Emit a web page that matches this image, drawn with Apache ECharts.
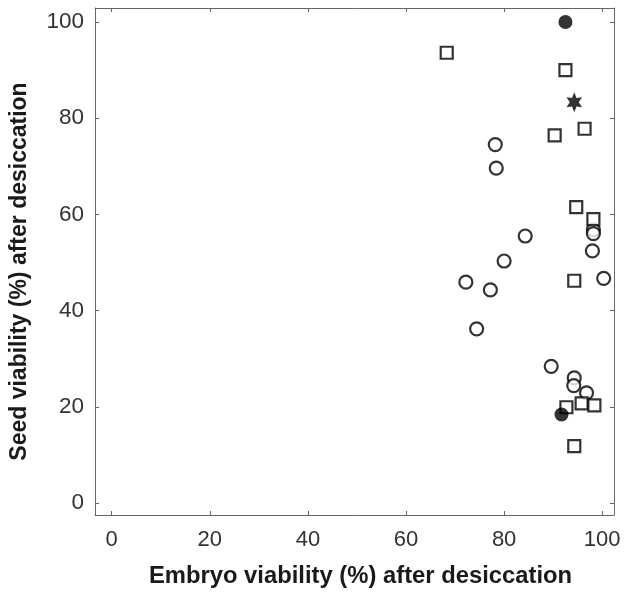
<!DOCTYPE html>
<html>
<head>
<meta charset="utf-8">
<script src="https://cdn.jsdelivr.net/npm/echarts@6/dist/echarts.min.js"></script>
<style>html,body{margin:0;padding:0;background:#fff}#c{width:625px;height:593px}</style>
</head>
<body>
<div id="c"></div>
<script>
// Tick values
const xTicks = [0, 20, 40, 60, 80, 100];
const yTicks = [0, 20, 40, 60, 80, 100];

// Open circles: [embryo viability, seed viability]
const openCircles = [
  [78.2, 74.5], [78.4, 69.6], [84.3, 55.5], [80.0, 50.3], [72.2, 45.9],
  [77.2, 44.3], [74.4, 36.2], [98.0, 52.4], [100.3, 46.7], [98.2, 56.8],
  [98.2, 56.0], [89.6, 28.4], [94.3, 26.0], [94.2, 24.4], [96.8, 22.9]
];
// Open squares
const openSquares = [
  [68.3, 93.6], [92.5, 90.0], [96.4, 77.8], [90.3, 76.4], [94.7, 61.5],
  [98.2, 59.0], [94.3, 46.2], [95.8, 20.7], [98.4, 20.3], [92.7, 19.9],
  [94.3, 11.8]
];
// Filled circles
const filledCircles = [[92.5, 100.0], [91.7, 18.4]];
// Star
const stars = [[94.3, 83.3]];

const font = 'Liberation Sans, Arial, Helvetica, sans-serif';
const frameColor = '#666';
const starPath = 'path://M10 0 L12.5 5.67 L18.66 5 L15 10 L18.66 15 L12.5 14.33 L10 20 L7.5 14.33 L1.34 15 L5 10 L1.34 5 L7.5 5.67 Z';

const chart = echarts.init(document.getElementById('c'), null, {renderer: 'canvas'});
const baseX = {
  type: 'value', min: -3.4, max: 102.4,
  splitLine: {show: false},
  axisLine: {show: true, onZero: false, lineStyle: {color: frameColor, width: 1}},
  axisTick: {show: true, inside: true, length: 4, customValues: xTicks, lineStyle: {color: frameColor}},
  axisLabel: {show: true, customValues: xTicks, fontFamily: font, fontSize: 22, color: '#333', margin: 14}
};
const baseY = {
  type: 'value', min: -2.5, max: 102.9,
  splitLine: {show: false},
  axisLine: {show: true, onZero: false, lineStyle: {color: frameColor, width: 1}},
  axisTick: {show: true, inside: true, length: 4, customValues: yTicks, lineStyle: {color: frameColor}},
  axisLabel: {show: true, customValues: yTicks, fontFamily: font, fontSize: 22.5, color: '#333', margin: 11}
};
const option = {
  backgroundColor: '#fff',
  animation: false,
  grid: {left: 90, right: 11, top: 8, bottom: 76, containLabel: false},
  xAxis: [
    Object.assign({}, baseX, {
      position: 'bottom',
      name: 'Embryo viability (%) after desiccation',
      nameLocation: 'middle', nameGap: 49,
      nameTextStyle: {fontFamily: font, fontSize: 23.8, fontWeight: 'bold', color: '#1a1a1a', padding: [0, 0, 0, 12]}
    }),
    Object.assign({}, baseX, {position: 'top', axisLabel: {show: false}})
  ],
  yAxis: [
    Object.assign({}, baseY, {
      position: 'left',
      name: 'Seed viability (%) after desiccation',
      nameLocation: 'middle', nameGap: 64,
      nameTextStyle: {fontFamily: font, fontSize: 23, fontWeight: 'bold', color: '#1a1a1a', padding: [0, 20, 0, 0]}
    }),
    Object.assign({}, baseY, {position: 'right', axisLabel: {show: false}})
  ],
  series: [
    {type: 'scatter', data: openCircles, symbol: 'circle', symbolSize: 13,
     itemStyle: {color: '#fff', borderColor: '#000', borderWidth: 2.2}},
    {type: 'scatter', data: openSquares, symbol: 'rect', symbolSize: 12,
     itemStyle: {color: '#fff', borderColor: '#000', borderWidth: 2.2}},
    {type: 'scatter', data: filledCircles, symbol: 'circle', symbolSize: 14,
     itemStyle: {color: '#000'}},
    {type: 'scatter', data: stars, symbol: starPath, symbolSize: [18, 20], symbolKeepAspect: true,
     itemStyle: {color: '#000'}}
  ]
};
chart.setOption(option);
</script>
</body>
</html>
